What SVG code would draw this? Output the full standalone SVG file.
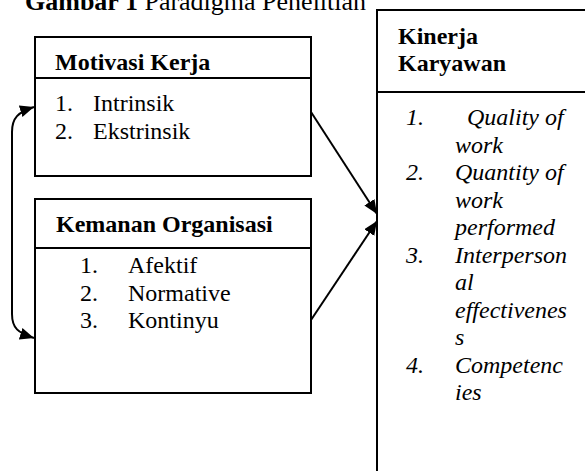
<svg xmlns="http://www.w3.org/2000/svg" width="585" height="471" viewBox="0 0 585 471" font-family="Liberation Serif, Times New Roman, serif">
<defs>
<style>
text{font-family:'Liberation Serif','DejaVu Serif',serif;font-size:24px;fill:#000}
.t{font-size:26px}
.b{font-weight:bold}
.i{font-style:italic}
.box{fill:#fff;stroke:#000;stroke-width:2}
.ln{fill:none;stroke:#000;stroke-width:2}
</style>
<marker id="ah" markerUnits="userSpaceOnUse" markerWidth="14" markerHeight="12" refX="14" refY="6" orient="auto-start-reverse">
<path d="M0,0 L14,6 L0,12 z" fill="#000"/>
</marker>
</defs>
<rect width="585" height="471" fill="#fff"/>
<text class="t" x="25" y="10"><tspan class="b">Gambar 1</tspan> Paradigma Penelitian</text>
<g id="kinerja">
<rect class="box" x="377" y="10" width="220" height="480"/>
<line class="ln" x1="377" y1="92" x2="585" y2="92"/>
<text class="b" x="398" y="44">Kinerja</text>
<text class="b" x="398" y="71">Karyawan</text>
<text class="i" x="406" y="125">1.</text><text class="i" x="467" y="125">Quality of</text>
<text class="i" x="455" y="152.5">work</text>
<text class="i" x="406" y="180">2.</text><text class="i" x="455" y="180">Quantity of</text>
<text class="i" x="455" y="207.5">work</text>
<text class="i" x="455" y="235">performed</text>
<text class="i" x="406" y="262.5">3.</text><text class="i" x="455" y="262.5">Interperson</text>
<text class="i" x="455" y="290">al</text>
<text class="i" x="455" y="317.5">effectivenes</text>
<text class="i" x="455" y="345">s</text>
<text class="i" x="406" y="372.5">4.</text><text class="i" x="455" y="372.5">Competenc</text>
<text class="i" x="455" y="400">ies</text>
</g>
<g id="motivasi">
<rect class="box" x="35" y="37" width="276" height="139"/>
<line class="ln" x1="35" y1="78" x2="311" y2="78"/>
<text class="b" x="55" y="70">Motivasi Kerja</text>
<text x="55" y="111">1.</text><text x="93" y="111">Intrinsik</text>
<text x="55" y="139">2.</text><text x="93" y="139">Ekstrinsik</text>
</g>
<g id="kemanan">
<rect class="box" x="35" y="199" width="276" height="194"/>
<line class="ln" x1="35" y1="248" x2="311" y2="248"/>
<text class="b" x="56" y="232">Kemanan Organisasi</text>
<text x="80" y="273">1.</text><text x="128" y="273">Afektif</text>
<text x="80" y="301">2.</text><text x="128" y="301">Normative</text>
<text x="80" y="328">3.</text><text x="128" y="328">Kontinyu</text>
</g>
<g id="connectors">
<line class="ln" x1="311" y1="112" x2="377" y2="214" marker-end="url(#ah)"/>
<line class="ln" x1="311" y1="320" x2="377" y2="221" marker-end="url(#ah)"/>
<path class="ln" d="M34 107 C18 112 12 118 12 132 L12 314 C12 328 18 333 34 338" marker-start="url(#ah)" marker-end="url(#ah)"/>
</g>
</svg>
